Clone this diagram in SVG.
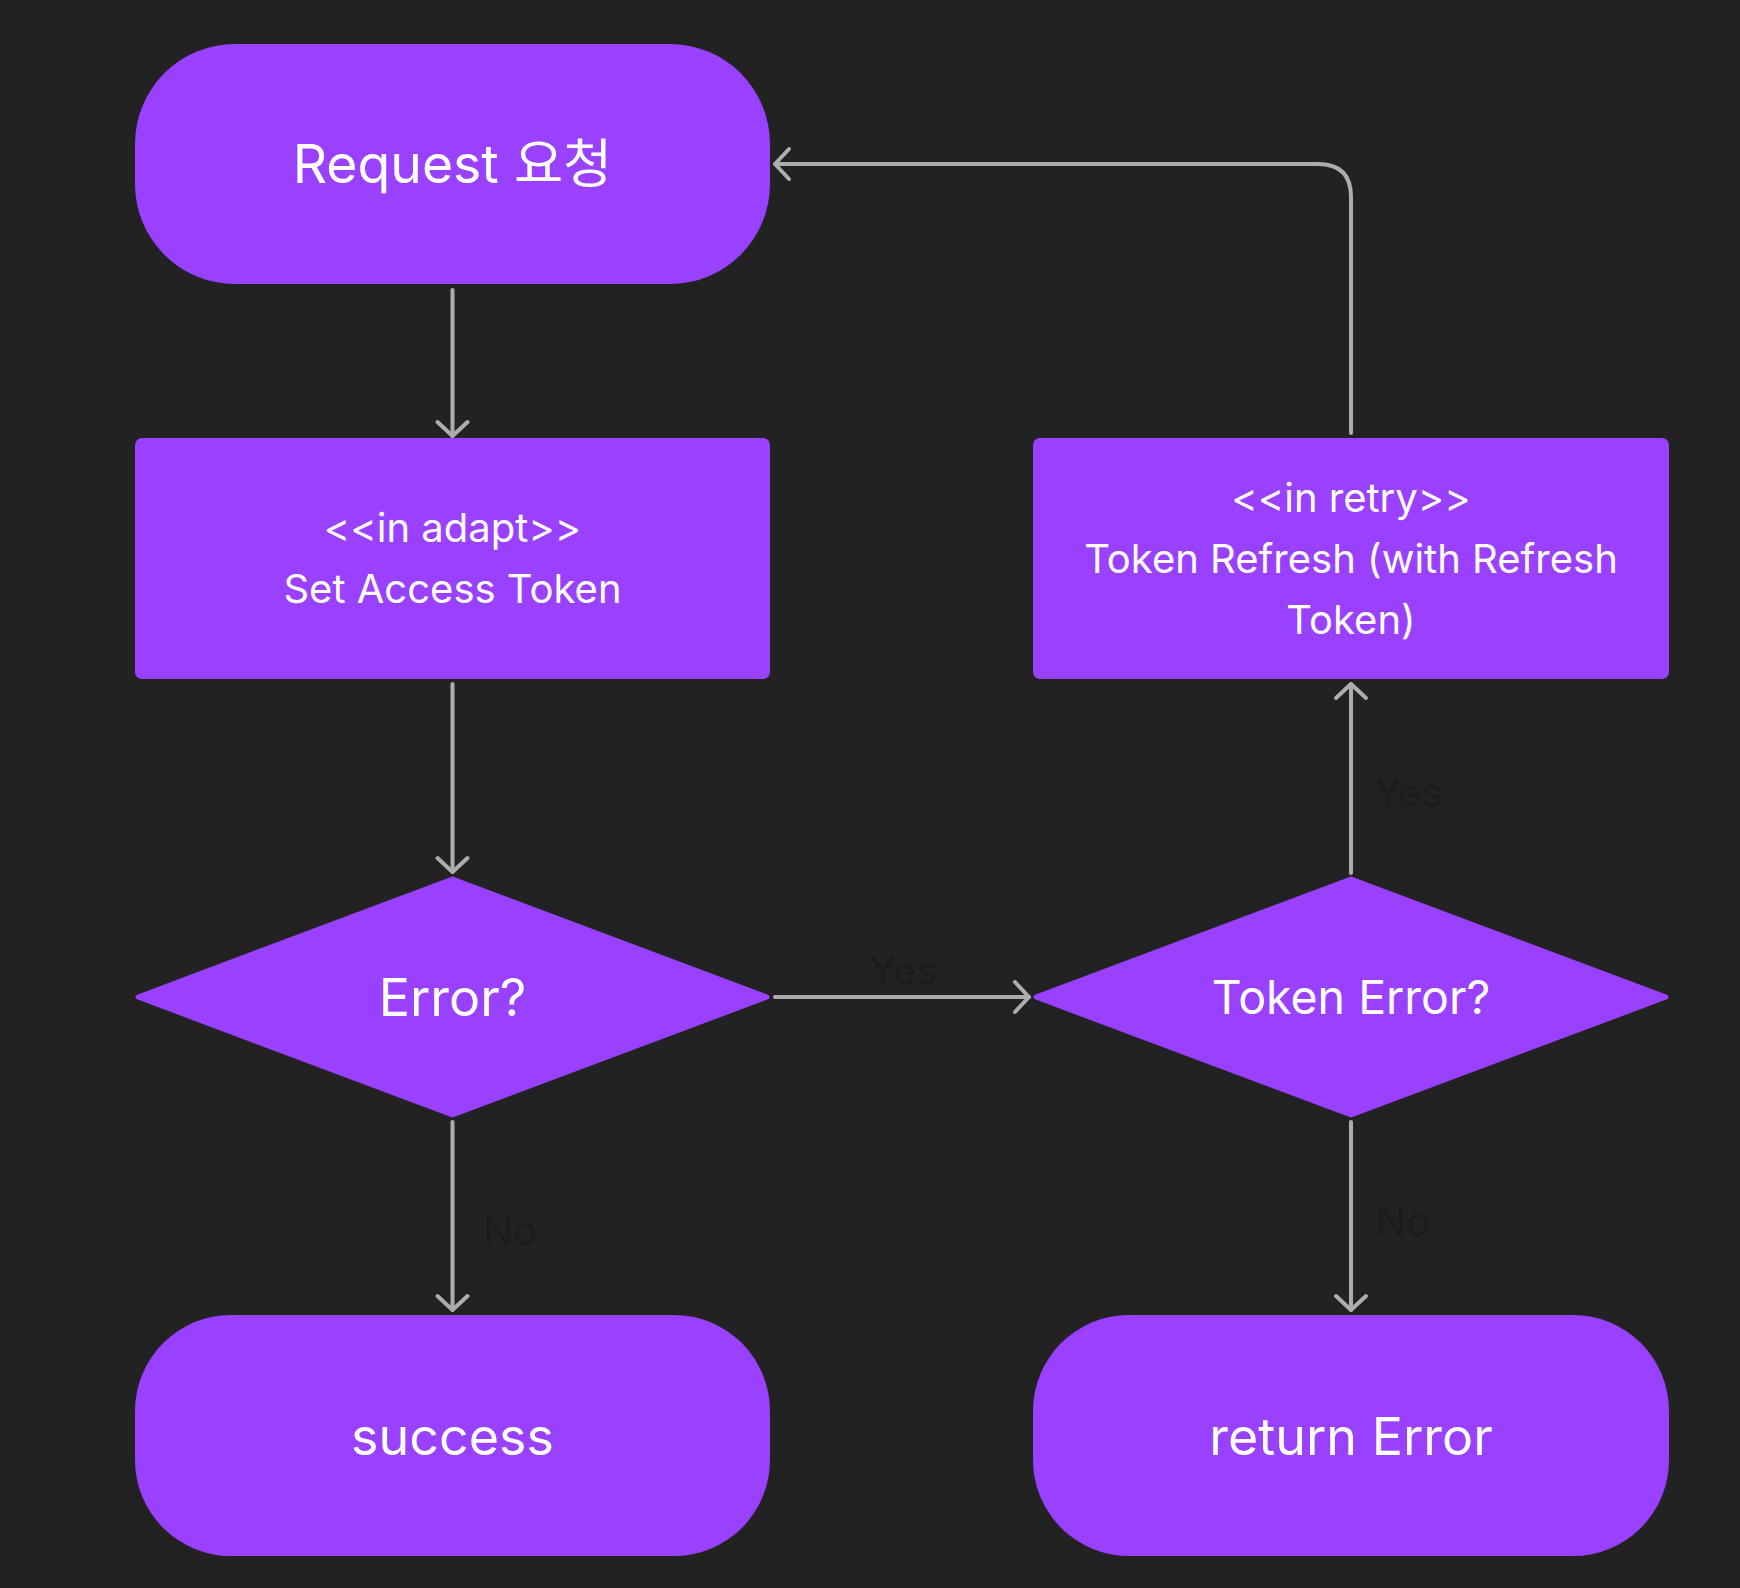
<svg xmlns="http://www.w3.org/2000/svg" width="1740" height="1588" viewBox="0 0 1740 1588">
<defs>
<style>
.node{fill:#9a40ff;}
.dia{fill:#9a40ff;stroke:#9a40ff;stroke-width:5;stroke-linejoin:round;}
.t{font-family:Inter,"Noto Sans CJK KR",sans-serif;fill:#ffffff;text-anchor:middle;}
.big{font-size:52px;}
.mid{font-size:40px;}
.lbl{font-family:Inter,sans-serif;font-size:40px;fill:#1c1c1c;}
.edge{fill:none;stroke:#adadad;stroke-width:4;stroke-linecap:round;marker-end:url(#arr);}
</style>
<marker id="arr" viewBox="-17 -18 21 36" refX="0" refY="0" markerWidth="21" markerHeight="36" markerUnits="userSpaceOnUse" orient="auto">
<path d="M-14,-15 L0,0 L-14,15" fill="none" stroke="#adadad" stroke-width="4" stroke-linecap="round" stroke-linejoin="round"/>
</marker>
</defs>
<rect width="1740" height="1588" fill="#222222"/>

<g id="connectors">
<path class="edge" d="M452.5,290 L452.5,436"/>
<path class="edge" d="M452.5,684 L452.5,872"/>
<path class="edge" d="M452.5,1122 L452.5,1310"/>
<path class="edge" d="M775,997 L1029,997"/>
<path class="edge" d="M1351,873 L1351,684"/>
<path class="edge" d="M1351,1122 L1351,1310"/>
<path class="edge" d="M1351,433 L1351,197 Q1351,164 1318,164 L775,164"/>
<text class="lbl" x="869" y="985">Yes</text>
<text class="lbl" x="483" y="1245">No</text>
<text class="lbl" x="1374" y="807">Yes</text>
<text class="lbl" x="1376" y="1236">No</text>
</g>

<g id="request">
<rect class="node" x="135" y="44" width="635" height="240" rx="100" ry="100"/>
<text class="t" style="font-size:53.5px" x="452.5" y="183">Request 요청</text>
</g>

<g id="set-access-token">
<rect class="node" x="135" y="438" width="635" height="241" rx="7"/>
<text class="t mid" x="452.5" y="542">&lt;&lt;in adapt&gt;&gt;</text>
<text class="t mid" x="452.5" y="603">Set Access Token</text>
</g>

<g id="token-refresh">
<rect class="node" x="1033" y="438" width="636" height="241" rx="7"/>
<text class="t mid" x="1351" y="512">&lt;&lt;in retry&gt;&gt;</text>
<text class="t mid" x="1351" y="573">Token Refresh (with Refresh</text>
<text class="t mid" x="1351" y="634">Token)</text>
</g>

<g id="error">
<polygon class="dia" points="138,997 452.5,879 767,997 452.5,1115"/>
<text class="t big" x="452.5" y="1016">Error?</text>
</g>

<g id="token-error">
<polygon class="dia" points="1036,997 1351,879 1666,997 1351,1115"/>
<text class="t" style="font-size:46.5px" x="1351" y="1014">Token Error?</text>
</g>

<g id="success">
<rect class="node" x="135" y="1315" width="635" height="241" rx="96" ry="96"/>
<text class="t big" x="452.5" y="1455">success</text>
</g>

<g id="return-error">
<rect class="node" x="1033" y="1315" width="636" height="241" rx="96" ry="96"/>
<text class="t big" x="1351" y="1455">return Error</text>
</g>
</svg>
